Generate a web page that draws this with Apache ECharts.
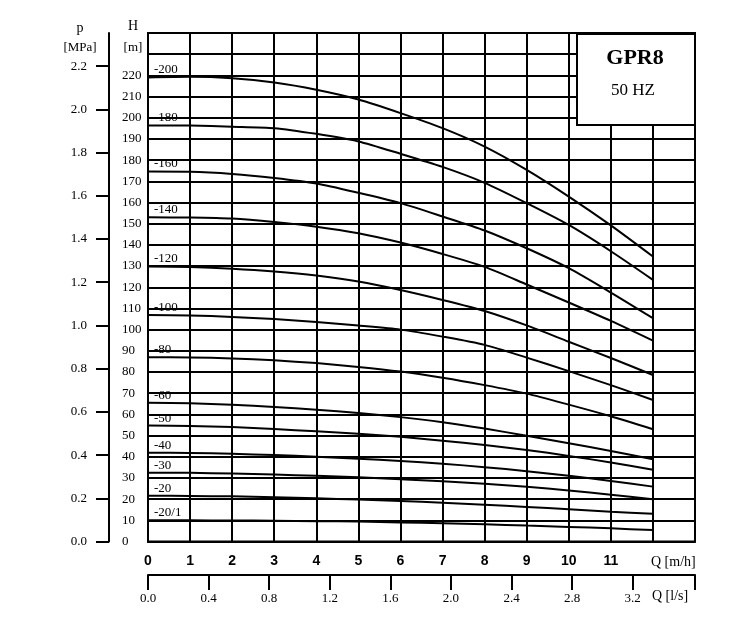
<!DOCTYPE html>
<html><head><meta charset="utf-8">
<script src="https://cdn.jsdelivr.net/npm/echarts@6/dist/echarts.min.js"></script>
<style>html,body{margin:0;padding:0;background:#fff}#c{width:750px;height:632px}</style>
</head><body><div id="c"></div>
<script>
// ---- data ----
const flowM3h = [0,1,2,3,4,5,6,7,8,9,10,11,12];
const curveNames = ['-200','-180','-160','-140','-120','-100','-80','-60','-50','-40','-30','-20','-20/1'];
const h200  = [219.0,219.3,218.6,216.6,213.2,208.6,202.2,195.1,186.4,175.4,162.8,149.2,134.5];
const h180  = [196.4,196.3,195.8,195.1,192.4,188.8,183.0,176.8,169.3,159.7,149.4,137.0,123.5];
const h160  = [174.6,174.5,173.5,171.6,169.0,164.6,159.7,153.4,146.8,138.4,129.0,117.5,105.4];
const h140  = [153.0,152.9,152.4,150.8,148.6,145.5,141.1,135.7,129.6,121.3,112.8,104.1,94.8];
const h120  = [129.8,129.5,128.7,127.4,125.5,122.7,118.7,114.0,108.8,102.0,94.3,86.6,78.6];
const h100  = [106.9,106.7,106.0,105.0,103.6,101.9,100.0,96.7,92.8,86.8,80.4,73.8,66.8];
const h80   = [87.0,86.9,86.4,85.5,84.2,82.4,80.2,77.3,73.8,69.8,64.6,59.1,53.0];
const h60   = [65.5,65.2,64.6,63.5,62.2,60.6,58.7,56.3,53.3,49.9,46.4,42.7,38.8];
const h50   = [54.7,54.5,54.0,53.1,52.0,50.8,49.4,47.6,45.5,43.2,40.4,37.3,33.9];
const h40   = [41.9,41.8,41.4,40.8,40.0,39.1,38.0,36.7,35.1,33.2,31.0,28.6,25.9];
const h30   = [32.5,32.4,32.1,31.6,31.0,30.3,29.4,28.4,27.2,25.8,24.1,22.1,19.9];
const h20   = [21.6,21.5,21.3,20.9,20.4,19.8,19.1,18.3,17.4,16.3,15.2,14.0,13.1];
const h20_1 = [10.0,10.0,9.9,9.8,9.6,9.4,9.0,8.6,8.1,7.5,6.9,6.2,5.4];
const curves = [h200,h180,h160,h140,h120,h100,h80,h60,h50,h40,h30,h20,h20_1];

const flowTickLabels = [0,1,2,3,4,5,6,7,8,9,10,11];
const headTickLabels = [0,10,20,30,40,50,60,70,80,90,100,110,120,130,140,150,160,170,180,190,200,210,220];
const pressureTicks = [0,0.2,0.4,0.6,0.8,1.0,1.2,1.4,1.6,1.8,2.0,2.2];
const lsTickLabels = [0,0.4,0.8,1.2,1.6,2.0,2.4,2.8,3.2];
const flowMax = 13, headMax = 240;
const MPA_PER_M = 0.00980665, M3H_PER_LS = 3.6;

const serif = 'Liberation Serif';
const black = '#000';

const series = curves.map((arr, i) => ({
  type: 'line', name: curveNames[i], xAxisIndex: 0, yAxisIndex: 0,
  smooth: 0.25,
  symbol: 'circle', symbolSize: 0, showSymbol: true, showAllSymbol: true,
  silent: true, animation: false,
  lineStyle: { color: black, width: 2 }, itemStyle: { color: black },
  label: { show: false },
  emphasis: { disabled: true },
  data: arr.map((h, j) => j === 0
    ? { value: [flowM3h[j], h], label: { show: true, formatter: curveNames[i], position: [6, -14],
        fontFamily: serif, fontSize: 13, color: black } }
    : [flowM3h[j], h])
}));

const chart = echarts.init(document.getElementById('c'), null, { renderer: 'canvas' });
chart.setOption({
  animation: false,
  backgroundColor: '#fff',
  grid: { left: 148, right: 55, top: 33, bottom: 90.5, show: true, borderColor: black, borderWidth: 2, backgroundColor: 'transparent' },
  xAxis: [{
    type: 'value', min: 0, max: flowMax, interval: 1,
    axisLine: { show: true, lineStyle: { color: black, width: 2 } },
    axisTick: { show: false },
    axisLabel: { margin: 13, fontFamily: 'Liberation Sans', fontWeight: 'bold', fontSize: 14, color: black,
      formatter: v => flowTickLabels.includes(v) ? String(v) : '' },
    splitLine: { show: true, lineStyle: { color: black, width: 2 } }
  }, {
    type: 'value', min: 0, max: flowMax / M3H_PER_LS, position: 'bottom', offset: 33.5,
    axisLine: { show: true, onZero: false, lineStyle: { color: black, width: 2 } },
    axisTick: { show: true, length: 15, lineStyle: { color: black, width: 2 },
      customValues: lsTickLabels.concat([flowMax / M3H_PER_LS]) },
    axisLabel: { margin: 17, fontFamily: serif, fontSize: 13, color: black,
      customValues: lsTickLabels, formatter: v => v.toFixed(1) },
    splitLine: { show: false }
  }],
  yAxis: [{
    type: 'value', min: 0, max: headMax, interval: 10, position: 'left',
    axisLine: { show: true, lineStyle: { color: black, width: 2 } },
    axisTick: { show: false },
    axisLabel: { margin: 26, align: 'left', fontFamily: serif, fontSize: 13, color: black,
      formatter: v => headTickLabels.includes(v) ? String(v) : '' },
    splitLine: { show: true, lineStyle: { color: black, width: 2 } }
  }, {
    type: 'value', min: 0, max: headMax * MPA_PER_M, position: 'left', offset: 39,
    axisLine: { show: true, onZero: false, lineStyle: { color: black, width: 2 } },
    axisTick: { show: true, length: 13, lineStyle: { color: black, width: 2 }, customValues: pressureTicks },
    axisLabel: { margin: 22, fontFamily: serif, fontSize: 13, color: black,
      customValues: pressureTicks, formatter: v => v.toFixed(1) },
    splitLine: { show: false }
  }],
  series: series,
  graphic: [
    { type: 'rect', z: 100, shape: { x: 577, y: 34, width: 118, height: 91 },
      style: { fill: '#fff', stroke: black, lineWidth: 2 } },
    { type: 'text', z: 101, x: 635, y: 58, style: { text: 'GPR8', font: 'bold 22px "Liberation Serif"', fill: black, align: 'center', verticalAlign: 'middle' } },
    { type: 'text', z: 101, x: 633, y: 91, style: { text: '50 HZ', font: '17px "Liberation Serif"', fill: black, align: 'center', verticalAlign: 'middle' } },
    { type: 'text', x: 80, y: 28, style: { text: 'p', font: '14px "Liberation Serif"', fill: black, align: 'center', verticalAlign: 'middle' } },
    { type: 'text', x: 80, y: 48, style: { text: '[MPa]', font: '13px "Liberation Serif"', fill: black, align: 'center', verticalAlign: 'middle' } },
    { type: 'text', x: 133, y: 26, style: { text: 'H', font: '14px "Liberation Serif"', fill: black, align: 'center', verticalAlign: 'middle' } },
    { type: 'text', x: 133, y: 48, style: { text: '[m]', font: '13px "Liberation Serif"', fill: black, align: 'center', verticalAlign: 'middle' } },
    { type: 'text', x: 651, y: 562, style: { text: 'Q [m/h]', font: '14px "Liberation Serif"', fill: black, align: 'left', verticalAlign: 'middle' } },
    { type: 'text', x: 652, y: 596, style: { text: 'Q [l/s]', font: '14px "Liberation Serif"', fill: black, align: 'left', verticalAlign: 'middle' } }
  ]
});
</script>
</body></html>
